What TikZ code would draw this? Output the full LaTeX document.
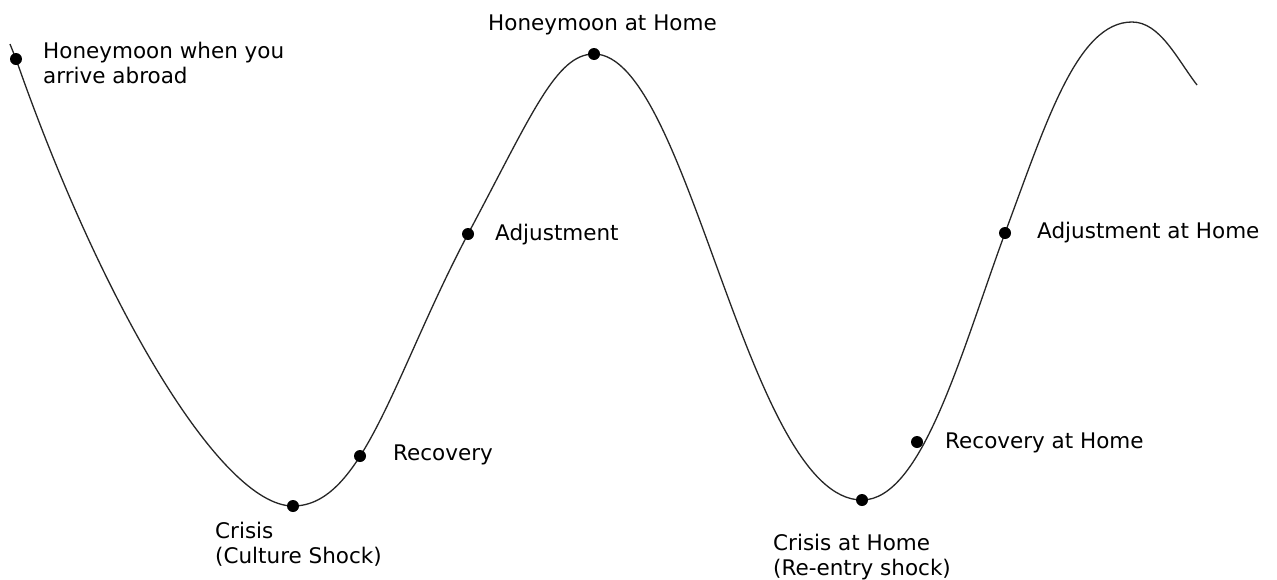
\documentclass[tikz,border=0pt]{standalone}
\usepackage{fontspec}
\setmainfont{DejaVu Sans}
\begin{document}
\begin{tikzpicture}[x=1pt,y=-1pt,
  curve/.style={line width=1.3pt,black!85},
  dotmark/.style={circle,fill=black,inner sep=0pt,minimum size=12pt},
  lbl/.style={anchor=base west,inner sep=0pt,align=left,text=black,
    font=\fontsize{21.5}{25}\selectfont}]
\useasboundingbox[fill=white] (0,0) rectangle (1277,579);
% stage points
\coordinate (p0) at (10,44);
\coordinate (h1) at (16,59);
\coordinate (c1) at (293,506);
\coordinate (r1) at (360,456);
\coordinate (a1) at (468,234);
\coordinate (h2) at (594,54);
\coordinate (c2) at (862,500);
\coordinate (r2) at (917,442);
\coordinate (a2) at (1005,233);
\coordinate (top) at (1132,22);
\coordinate (pe) at (1197,85);
\draw[curve] (p0) -- (h1)
  .. controls (100,300) and (220,506) .. (c1)
  .. controls (363,506) and (394,374) .. (a1)
  .. controls (532,114) and (556,54) .. (h2)
  .. controls (689,54) and (747,500) .. (c2)
  .. controls (922,500) and (961,353) .. (a2)
  .. controls (1046,123) and (1077,22) .. (top)
  .. controls (1160,22) and (1177,59) .. (pe);
\foreach \p in {h1,c1,r1,a1,h2,c2,r2,a2}
  \node[dotmark] (d\p) at (\p) {};
\node[lbl] (th1) at (43,83) {Honeymoon when you\\arrive abroad};
\node[lbl] (th2) at (488,30) {Honeymoon at Home};
\node[lbl] (ta1) at (495,240) {Adjustment};
\node[lbl] (tr1) at (393,460) {Recovery};
\node[lbl] (tc1) at (215,563) {Crisis\\(Culture Shock)};
\node[lbl] (tc2) at (773,575) {Crisis at Home\\(Re-entry shock)};
\node[lbl] (tr2) at (945,448) {Recovery at Home};
\node[lbl] (ta2) at (1037,238) {Adjustment at Home};
\end{tikzpicture}
\end{document}
